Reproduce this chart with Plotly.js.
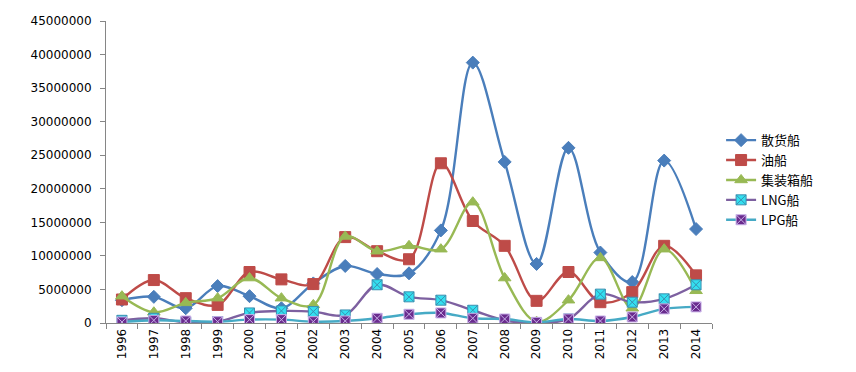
<!DOCTYPE html>
<html>
<head>
<meta charset="utf-8">
<script src="https://cdn.plot.ly/plotly-3.0.1.min.js"></script>
<style>html,body{margin:0;padding:0;background:#fff;}#chart{width:856px;height:372px;}</style>
</head>
<body>
<div id="chart"></div>
<script>
var years = ['1996','1997','1998','1999','2000','2001','2002','2003','2004','2005','2006','2007','2008','2009','2010','2011','2012','2013','2014'];
var bulk = [3400000,3900000,2200000,5500000,4000000,2200000,5900000,8500000,7300000,7400000,13800000,38800000,24000000,8800000,26100000,10500000,6100000,24200000,14000000];
var tanker = [3500000,6400000,3700000,2700000,7600000,6500000,5800000,12800000,10700000,9500000,23800000,15200000,11500000,3300000,7600000,3100000,4600000,11500000,7100000];
var container = [4000000,1600000,3000000,3700000,6700000,3700000,2700000,12900000,10700000,11500000,11000000,18000000,6700000,200000,3400000,9700000,2200000,11000000,4800000];
var lng = [400000,700000,100000,200000,1500000,1800000,1700000,1200000,5700000,3900000,3400000,1900000,400000,0,600000,4300000,3100000,3600000,5700000];
var lpg = [150000,400000,300000,200000,500000,500000,200000,300000,700000,1300000,1500000,700000,600000,100000,600000,300000,900000,2100000,2400000];
var names = ['散货船','油船','集装箱船','LNG船','LPG船'];
var yTicks = [0,5000000,10000000,15000000,20000000,25000000,30000000,35000000,40000000,45000000];
var yTickText = ['0','5000000','10000000','15000000','20000000','25000000','30000000','35000000','40000000','45000000'];

function tr(y, name, lineColor, sym, mColor, mLine, size) {
  return {
    x: years, y: y, name: name, type: 'scatter', mode: 'lines+markers',
    line: {color: lineColor, width: 2.4, shape: 'spline', smoothing: 1},
    marker: {symbol: sym, color: mColor, size: size, line: {color: mLine, width: 1}}
  };
}
var data = [
  tr(bulk, names[0], '#4A7EBB', 'diamond', '#4A7EBB', '#4A7EBB', 10),
  tr(tanker, names[1], '#BE4B48', 'square', '#BE4B48', '#BE4B48', 11),
  tr(container, names[2], '#98B954', 'triangle-up', '#98B954', '#98B954', 11),
  tr(lng, names[3], '#7D60A0', 'square-x', '#33E0F0', '#3A8FB0', 10),
  tr(lpg, names[4], '#46AAC5', 'square-x', '#6A2C8E', '#C8B0E8', 10)
];
var layout = {
  width: 856, height: 372,
  margin: {l: 106, r: 144, t: 21, b: 49},
  paper_bgcolor: '#fff', plot_bgcolor: '#fff',
  font: {family: 'DejaVu Sans, Liberation Sans, sans-serif', size: 12, color: '#000'},
  showlegend: true,
  legend: {x: 1.015, xanchor: 'left', y: 0.655, yanchor: 'top', font: {size: 13, family: 'Noto Sans CJK SC, DejaVu Sans, sans-serif'}, tracegroupgap: 0, itemwidth: 30},
  xaxis: {
    type: 'category', range: [-0.5, 18.5], tickangle: -90,
    showline: true, linecolor: '#868686', linewidth: 1,
    ticks: 'outside', tickson: 'boundaries', ticklen: 5, tickcolor: '#868686',
    showgrid: false, zeroline: false, fixedrange: true,
    tickfont: {size: 12}
  },
  yaxis: {
    range: [0, 45000000], tickvals: yTicks, ticktext: yTickText,
    showline: true, linecolor: '#868686', linewidth: 1,
    ticks: 'outside', ticklen: 5, tickcolor: '#868686', ticklabelstandoff: 6,
    showgrid: false, zeroline: false, tickfont: {size: 12}
  }
};
Plotly.newPlot('chart', data, layout, {displayModeBar: false, staticPlot: true});
</script>
</body>
</html>
